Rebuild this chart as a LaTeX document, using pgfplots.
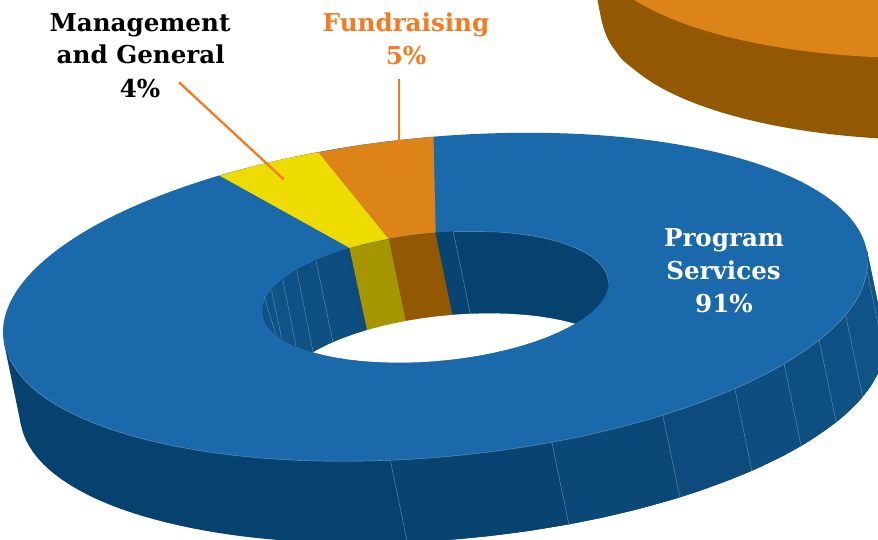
\documentclass[border=0pt]{standalone}
\usepackage{pgfplots}
\usepackage{fontspec}
\pgfplotsset{compat=1.18}
\setmainfont{DejaVu Serif}
\definecolor{blue}{HTML}{1A69AA}
\definecolor{sideA}{HTML}{064270}
\definecolor{sideB}{HTML}{084472}
\definecolor{sideC}{HTML}{0A4878}
\definecolor{sideD}{HTML}{0C4B7C}
\definecolor{sideE}{HTML}{0D4D7F}
\definecolor{sideF}{HTML}{0E4F82}
\definecolor{sideG}{HTML}{0F5185}
\definecolor{sideH}{HTML}{105387}
\definecolor{orangeT}{HTML}{DD8419}
\definecolor{orangeD}{HTML}{925802}
\definecolor{yellowT}{HTML}{EEDC00}
\definecolor{yellowD}{HTML}{A59600}
\definecolor{lead}{HTML}{F47B20}
\definecolor{pale}{HTML}{6E9BBE}
\pgfplotsset{
  pan/.style={fill=#1,draw=#1,line width=0.2pt},
  sl/.style={color=pale,line width=0.35pt},
  edge/.style={color=pale,line width=0.4pt,smooth,tension=0.6},
}
\newcommand{\lab}[1]{\fontsize{#1}{#1}\selectfont\bfseries}
\begin{document}
\begin{tikzpicture}
\begin{axis}[
  hide axis, scale only axis, width=878pt, height=539pt,
  xmin=0, xmax=878, ymin=0, ymax=539, y dir=reverse, clip=true,
]
% background orange slice
\addplot[fill=orangeD,draw=none,smooth,tension=0.6] coordinates {(590.5,-34)(597.5,0)(602.2,22.9)(607.6,38.3)(615.8,51.3)(627,63.8)(659,86.6)(702.2,106)(755.5,121.4)(817.3,132.5)(885.6,138.8)(958.4,140.1)(1100,100)(1100,-200)(590.5,-200)} -- cycle;
\addplot[fill=orangeT,draw=none,smooth,tension=0.6] coordinates {(610,-18.2)(642,4.6)(685.2,24)(738.5,39.4)(800.3,50.5)(868.6,56.8)(941.4,58.1)(1100,50)(1100,-200)(600,-200)} -- cycle;
% outer side
\addplot[fill=sideA,draw=none] coordinates {(866.8,250.1)(883.8,332.1)(21.2,425.9)(4.2,343.9)} -- cycle;
\addplot[fill=sideA,draw=none,smooth cycle,tension=0.6] coordinates {(885,344)(878.4,372.4)(858.9,401)(827,428.9)(783.8,455.4)(730.5,479.4)(668.8,500.5)(600.4,517.9)(527.6,531)(452.5,539.5)(377.4,543.1)(304.6,541.8)(236.3,535.5)(174.5,524.4)(121.2,509)(78,489.6)(46.1,466.8)(26.6,441.3)(20,414)(26.6,385.6)(46.1,357)(78,329.1)(121.2,302.6)(174.5,278.6)(236.3,257.5)(304.6,240.2)(377.4,227)(452.5,218.5)(527.6,214.9)(600.4,216.2)(668.8,222.5)(730.5,233.6)(783.8,249)(827,268.4)(858.9,291.2)(878.4,316.7)};
\addplot[pan=sideB] coordinates {(390.3,460.3)(407.3,542.3)(452.5,539.5)(490.2,535.8)(527.6,531)(568.8,524.2)(551.8,442.2)};
\addplot[pan=sideC] coordinates {(551.8,442.2)(568.8,524.2)(600.4,517.9)(635.3,509.7)(668.8,500.5)(679.8,497.2)(662.8,415.2)};
\addplot[pan=sideD] coordinates {(662.8,415.2)(679.8,497.2)(700.6,490.4)(730.5,479.4)(751.8,470.6)(734.8,388.6)};
\addplot[pan=sideE] coordinates {(734.8,388.6)(751.8,470.6)(758.3,467.7)(783.8,455.4)(801.1,445.8)(784.1,363.8)};
\addplot[pan=sideF] coordinates {(784.1,363.8)(801.1,445.8)(806.8,442.4)(827,428.9)(836.1,422.1)(819.1,340.1)};
\addplot[pan=sideG] coordinates {(819.1,340.1)(836.1,422.1)(844.5,415.1)(858.9,401)(862.6,396.7)(845.6,314.7)};
\addplot[pan=sideH] coordinates {(845.6,314.7)(862.6,396.7)(870.2,386.7)(878.4,372.4)(883.3,358.1)(884.2,353.9)(867.2,271.9)};
\addplot[pan=sideH] coordinates {(867.2,271.9)(884.2,353.9)(885,344)(883.8,332.1)(866.8,250.1)};
\addplot[sl] coordinates {(390.3,460.3)(407.3,542.3)};
\addplot[sl] coordinates {(551.8,442.2)(568.8,524.2)};
\addplot[sl] coordinates {(662.8,415.2)(679.8,497.2)};
\addplot[sl] coordinates {(734.8,388.6)(751.8,470.6)};
\addplot[sl] coordinates {(784.1,363.8)(801.1,445.8)};
\addplot[sl] coordinates {(819.1,340.1)(836.1,422.1)};
\addplot[sl] coordinates {(845.6,314.7)(862.6,396.7)};
\addplot[sl] coordinates {(867.2,271.9)(884.2,353.9)};
% top face
\addplot[fill=blue,draw=none,smooth cycle,tension=0.6] coordinates {(868,262)(861.4,290.4)(841.9,319)(810,346.9)(766.8,373.4)(713.5,397.4)(651.8,418.5)(583.4,435.9)(510.6,449)(435.5,457.5)(360.4,461.1)(287.6,459.8)(219.3,453.5)(157.5,442.4)(104.2,427)(61,407.6)(29.1,384.8)(9.6,359.3)(3,332)(9.6,303.6)(29.1,275)(61,247.1)(104.2,220.6)(157.5,196.6)(219.3,175.5)(287.6,158.2)(360.4,145)(435.5,136.5)(510.6,132.9)(583.4,134.2)(651.8,140.5)(713.5,151.6)(766.8,167)(810,186.4)(841.9,209.2)(861.4,234.7)};
\addplot[edge] coordinates {(868,262)(861.4,290.4)(841.9,319)(810,346.9)(766.8,373.4)(713.5,397.4)(651.8,418.5)(583.4,435.9)(510.6,449)(435.5,457.5)(360.4,461.1)(287.6,459.8)(219.3,453.5)(157.5,442.4)(104.2,427)(61,407.6)(29.1,384.8)(9.6,359.3)};
% wedges on the top face
\addplot[fill=yellowT,draw=none] coordinates {(219.5,175.6)(252.7,166.3)(287.6,158.2)(318.5,152.2)(389,239.2)(350,248.1)};
\addplot[fill=orangeT,draw=none] coordinates {(318.5,152.2)(360.4,145)(397.8,140.2)(433.5,136.7)(435.7,232.8)(389,239.2)};
% hole
\addplot[fill=sideA,draw=none,smooth cycle,tension=0.6] coordinates {(608.5,283)(605.9,294.4)(598.1,305.8)(585.3,317)(568,327.5)(546.7,337.2)(522,345.6)(494.7,352.5)(465.5,357.8)(435.5,361.2)(405.5,362.7)(376.3,362.1)(349,359.6)(324.3,355.2)(303,349)(285.7,341.2)(272.9,332.1)(265.1,321.9)(262.5,311)(265.1,299.6)(272.9,288.2)(285.7,277)(303,266.5)(324.3,256.8)(349,248.4)(376.3,241.5)(405.5,236.2)(435.5,232.8)(465.5,231.4)(494.7,231.9)(522,234.4)(546.7,238.8)(568,245)(585.3,252.8)(598.1,261.9)(605.9,272.1)};
\addplot[pan=sideH] coordinates {(271.5,290.5)(265.1,299.6)(262.7,311)(265.1,321.9)(272.9,332.1)(281.7,338.3)};
\addplot[pan=sideH] coordinates {(271.5,290.5)(282.7,279)(296,346)(285.7,341.2)(281.7,338.3)};
\addplot[pan=sideG] coordinates {(282.7,279)(285.7,277)(296.7,270.3)(313.1,352.3)(303,349)(296,346)};
\addplot[pan=sideF] coordinates {(296.7,270.3)(303,266.5)(316,260.6)(333,342.6)(313.1,352.3)};
\addplot[pan=sideE] coordinates {(316,260.6)(324.3,256.8)(345.3,249.7)(362.3,331.7)(333,342.6)};
\addplot[pan=sideD] coordinates {(345.3,249.7)(349.5,248.3)(367,330.1)(362.3,331.7)};
\addplot[pan=yellowD] coordinates {(349.5,248.3)(376.3,241.5)(389,239.2)(406,321.2)(367,330.1)};
\addplot[pan=orangeD] coordinates {(389,239.2)(405.5,236.2)(435.5,232.8)(452.5,314.8)(406,321.2)};
\addplot[pan=sideB] coordinates {(435.5,232.8)(453.3,231.7)(470.3,313.7)(452.5,314.8)};
\addplot[sl] coordinates {(264,296)(276,335)};
\addplot[sl] coordinates {(271.5,290.5)(281.7,338.3)};
\addplot[sl] coordinates {(282.7,279)(296,346)};
\addplot[sl] coordinates {(296.7,270.3)(313.1,352.3)};
\addplot[sl] coordinates {(316,260.6)(333,342.6)};
\addplot[sl] coordinates {(453.3,231.7)(470.3,313.7)};
% see-through part of the hole
\addplot[fill=white,draw=none] coordinates {(574.9,323.7)(568,327.5)(557.8,332.5)(546.7,337.2)(534.7,341.6)(522,345.6)(508.6,349.3)(494.7,352.5)(480.3,355.4)(465.5,357.8)(450.6,359.7)(435.5,361.2)(420.4,362.2)(405.5,362.7)(390.7,362.6)(376.3,362.1)(362.4,361.1)(349,359.6)(336.3,357.6)(324.3,355.2)(313.1,352.3)(320,348.5)(330.2,343.5)(341.3,338.8)(353.3,334.4)(366,330.4)(379.4,326.7)(393.3,323.5)(407.7,320.6)(422.5,318.2)(437.4,316.3)(452.5,314.8)(467.6,313.8)(482.5,313.4)(497.3,313.4)(511.7,313.9)(525.6,314.9)(539,316.4)(551.7,318.4)(563.7,320.8)} -- cycle;
\addplot[edge] coordinates {(453.3,231.7)(494.7,231.9)(522,234.4)(546.7,238.8)(568,245)(585.3,252.8)(598.1,261.9)(605.9,272.1)(608.5,283)};
% leader lines
\addplot[color=lead,line width=2.3pt] coordinates {(179,82.3)(283.7,179.3)};
\addplot[color=lead,line width=2.3pt] coordinates {(399,79.3)(399,178.3)};
% labels
\node[anchor=base,text=black] at (axis cs:140,31) {\lab{24.6}Management};
\node[anchor=base,text=black] at (axis cs:140.7,63.5) {\lab{24.6}and General};
\node[anchor=base,text=black] at (axis cs:140,97.7) {\lab{24.6}4\%};
\node[anchor=base,text=lead] at (axis cs:406,31) {\lab{24.6}Fundraising};
\node[anchor=base,text=lead] at (axis cs:406,64) {\lab{24.6}5\%};
\node[anchor=base,text=white] at (axis cs:724,246) {\lab{24.6}Program};
\node[anchor=base,text=white] at (axis cs:723.5,279) {\lab{24.6}Services};
\node[anchor=base,text=white] at (axis cs:724,312.7) {\lab{24.6}91\%};
\end{axis}
\pgfresetboundingbox
\path[use as bounding box] (0,0) rectangle (878pt,539pt);
\end{tikzpicture}
\end{document}
